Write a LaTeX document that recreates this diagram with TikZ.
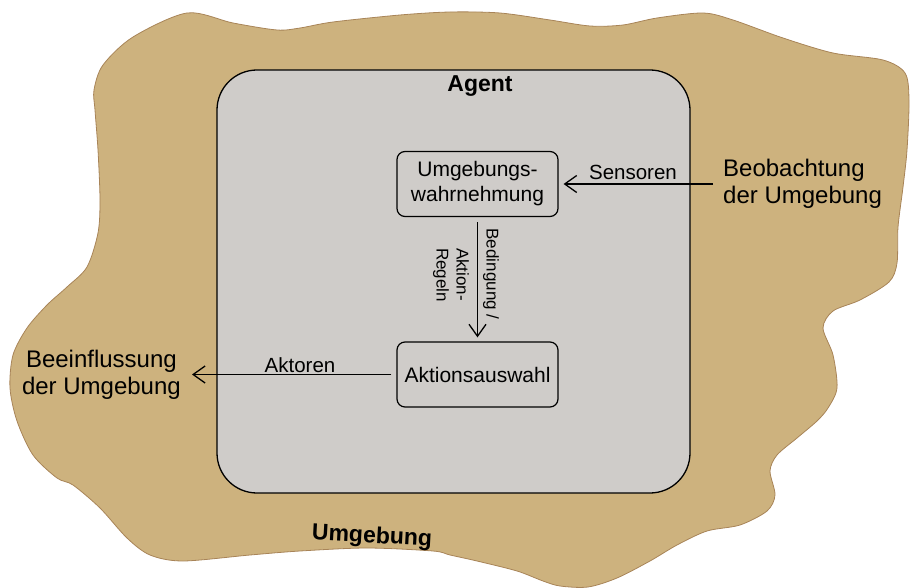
\documentclass[tikz,border=0pt]{standalone}
\usepackage{fontspec}
\setmainfont{Liberation Sans}
\usetikzlibrary{arrows.meta}
\definecolor{sand}{RGB}{205,178,126}
\definecolor{sandline}{RGB}{168,132,88}
\definecolor{agentgray}{RGB}{207,204,201}
\tikzset{
  innerbox/.style={draw=black, line width=1.2pt, rounded corners=8pt, minimum width=161pt, minimum height=65pt, inner sep=0pt, font=\fontsize{21}{25}\selectfont, align=center},
  biglabel/.style={font=\fontsize{24}{27}\selectfont, inner sep=0pt},
  smalllabel/.style={font=\fontsize{20.5}{24}\selectfont, inner sep=0pt},
  rotlabel/.style={font=\fontsize{17}{20}\selectfont, inner sep=0pt, rotate=-90},
  arr/.style={line width=1.3pt, -{Straight Barb[length=12pt,width=17pt,line width=1.3pt]}},
}
\begin{document}
\begin{tikzpicture}[x=1pt,y=-1pt]
\useasboundingbox (0,0) rectangle (910,588);
% environment blob
\draw[fill=sand, draw=sandline, line width=0.8pt] plot[smooth cycle, tension=0.5] coordinates {
(187,13) (233,23) (277,30) (300,28) (333,22) (400,15) (450,12) (500,13) (550,20) (590,26) (623,25) (657,18) (703,13) (733,20) (783,38) (833,53) (883,60) (905,73) (909,100) (907,150) (903,187) (898,227) (897,263) (889,282) (860,300) (833,311) (823,328) (833,355) (837,388) (828,408) (817,421) (797,438) (777,455) (770,471) (775,495) (767,511) (740,525) (707,531) (677,545) (650,561) (617,578) (588,587) (560,586) (543,581) (517,571) (477,561) (450,555) (433,551) (367,548) (300,551) (250,555) (183,561) (150,555) (127,538) (100,508) (73,485) (57,478) (33,455) (17,421) (10,388) (13,355) (27,328) (47,305) (67,287) (87,267) (98,233) (100,200) (98,150) (95,110) (94,90) (103,65) (133,37)};
% agent box
\node[draw=black, fill=agentgray, line width=1.3pt, rounded corners=40pt, minimum width=473pt, minimum height=423pt, inner sep=0pt] (agent) at (453.5,281.5) {};
\node[font=\bfseries\fontsize{23}{27}\selectfont, inner sep=0pt, anchor=base] (agenttitle) at (480,92) {Agent};
% inner boxes
\node[innerbox] (wahr) at (477.5,184) {Umgebungs-\\wahrnehmung};
\node[innerbox] (aktion) at (477.5,374.5) {Aktionsauswahl};
% outer labels
\node[biglabel, align=left, anchor=west] (beob) at (723,184) {Beobachtung\\der Umgebung};
\node[biglabel, align=center, anchor=east] (beein) at (181,374.5) {Beeinflussung\\der Umgebung};
\node[font=\bfseries\fontsize{23}{27}\selectfont, inner sep=0pt, rotate=-3] (umg) at (372,537) {Umgebung};
% arrows
\draw[arr, shorten <=10pt, shorten >=5pt] (beob.west) -- (beob.west -| wahr.east);
\draw[arr, shorten <=5pt, shorten >=4pt] (wahr.south) -- (aktion.north);
\draw[arr, shorten <=5pt, shorten >=11pt] (aktion.west) -- (aktion.west -| beein.east);
% arrow labels
\node[smalllabel, anchor=base] (sens) at (633,180) {Sensoren};
\node[smalllabel, anchor=base] (akt) at (300,372) {Aktoren};
\node[rotlabel] (bed) at (491,274) {Bedingung /};
\node[rotlabel, align=left] (regeln) at (451,275) {Aktion-\\Regeln};
\end{tikzpicture}
\end{document}
